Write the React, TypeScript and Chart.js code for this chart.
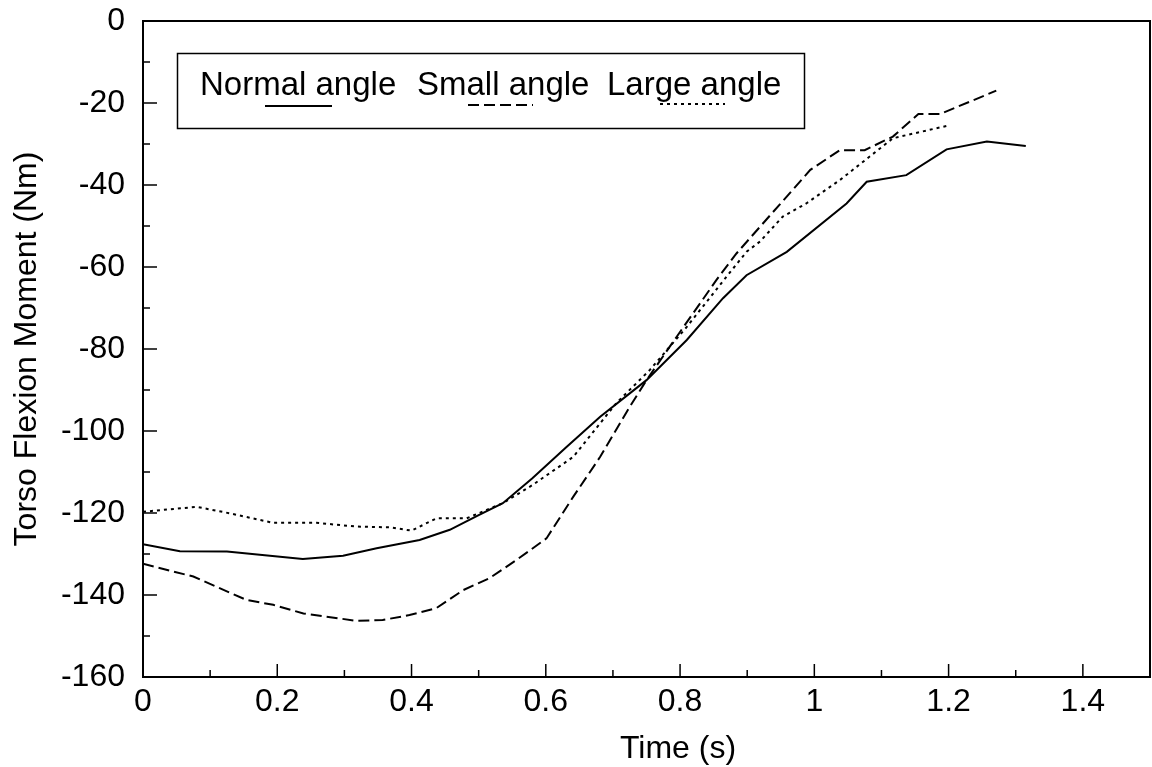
import React, { useEffect, useRef } from "react";
import { Chart, registerables } from "chart.js";

Chart.register(...registerables);

const normalTime = [0, 0.055, 0.125, 0.238, 0.298, 0.348, 0.412, 0.457, 0.5, 0.536, 0.58, 0.63, 0.681, 0.75, 0.81, 0.864, 0.899, 0.959, 1.048, 1.078, 1.137, 1.197, 1.257, 1.315];
const normalMoment = [-127.6, -129.3, -129.4, -131.2, -130.4, -128.6, -126.6, -124.1, -120.5, -117.6, -111.5, -104, -96.5, -87.6, -77.8, -67.6, -62, -56.3, -44.5, -39.2, -37.6, -31.3, -29.4, -30.5];

const smallTime = [0, 0.075, 0.154, 0.194, 0.239, 0.318, 0.357, 0.397, 0.437, 0.477, 0.516, 0.556, 0.601, 0.641, 0.681, 0.725, 0.75, 0.795, 0.854, 0.884, 0.994, 1.038, 1.075, 1.117, 1.155, 1.187, 1.271];
const smallMoment = [-132.4, -135.5, -141.2, -142.4, -144.5, -146.3, -146.1, -144.9, -143.2, -138.8, -135.9, -131.5, -126.2, -116, -106.3, -94.1, -87.6, -77, -63.2, -56.7, -36.3, -31.5, -31.5, -28.2, -22.7, -22.7, -17];

const largeTime = [0, 0.08, 0.13, 0.194, 0.258, 0.318, 0.368, 0.4, 0.437, 0.482, 0.536, 0.58, 0.641, 0.705, 0.755, 0.81, 0.869, 0.899, 0.919, 0.953, 0.988, 1.038, 1.117, 1.197];
const largeMoment = [-119.7, -118.5, -120.1, -122.4, -122.4, -123.3, -123.5, -124.3, -121.3, -121.3, -117.6, -113.2, -106.3, -93.2, -85.1, -74.6, -62.4, -56.3, -53.8, -47.7, -44.5, -38.8, -28.6, -25.6];

const seriesLabels = ["Normal angle", "Small angle", "Large angle"];
const seriesDashes: number[][] = [[], [11, 5], [3, 4]];
const xTickValues = [0, 0.2, 0.4, 0.6, 0.8, 1, 1.2, 1.4];
const xTitle = "Time (s)";
const yTitle = "Torso Flexion Moment (Nm)";

const FONT = '"Liberation Sans", Arial, sans-serif';

function toPoints(xs: number[], ys: number[]) {
  return xs.map((x, i) => ({ x, y: ys[i] }));
}

const decorPlugin = {
  id: "decor",
  afterDraw(chart: any) {
    const ctx = chart.ctx as CanvasRenderingContext2D;
    const { left, right, top, bottom } = chart.chartArea;
    const xs = chart.scales.x;
    const ys = chart.scales.y;
    ctx.save();
    ctx.strokeStyle = "#000";
    ctx.fillStyle = "#000";
    // frame
    ctx.lineWidth = 2;
    ctx.setLineDash([]);
    ctx.strokeRect(left, top, right - left, bottom - top);
    // inward ticks
    ctx.lineWidth = 1.5;
    for (let v = 0; v <= 1.5001; v += 0.1) {
      const px = xs.getPixelForValue(v);
      const major = Math.abs(v / 0.2 - Math.round(v / 0.2)) < 1e-6;
      const len = major ? 13 : 7;
      ctx.beginPath();
      ctx.moveTo(px, bottom);
      ctx.lineTo(px, bottom - len);
      ctx.stroke();
    }
    for (let v = -160; v <= 0; v += 10) {
      const py = ys.getPixelForValue(v);
      const major = v % 20 === 0;
      const len = major ? 14 : 7;
      ctx.beginPath();
      ctx.moveTo(left, py);
      ctx.lineTo(left + len, py);
      ctx.stroke();
    }
    // axis titles
    ctx.font = `32px ${FONT}`;
    ctx.textAlign = "center";
    ctx.textBaseline = "alphabetic";
    ctx.fillText(xTitle, 678, 758);
    ctx.save();
    ctx.translate(36, (top + bottom) / 2);
    ctx.rotate(-Math.PI / 2);
    ctx.fillText(yTitle, 0, 0);
    ctx.restore();
    // legend
    ctx.lineWidth = 1.5;
    ctx.strokeRect(177.5, 53.5, 627, 75);
    ctx.textAlign = "left";
    ctx.font = `33px ${FONT}`;
    const textX = [200, 417, 607];
    const sampleX = [[265, 332], [468, 533], [660, 725]];
    const sampleY = [106, 105, 104];
    seriesLabels.forEach((lab, i) => {
      ctx.fillText(lab, textX[i], 95);
      ctx.lineWidth = 2;
      ctx.setLineDash(seriesDashes[i]);
      ctx.beginPath();
      ctx.moveTo(sampleX[i][0], sampleY[i]);
      ctx.lineTo(sampleX[i][1], sampleY[i]);
      ctx.stroke();
    });
    ctx.restore();
  },
};

export default function App() {
  const ref = useRef<HTMLCanvasElement | null>(null);
  useEffect(() => {
    if (!ref.current) return;
    const datasets = [
      toPoints(normalTime, normalMoment),
      toPoints(smallTime, smallMoment),
      toPoints(largeTime, largeMoment),
    ].map((data, i) => ({
      label: seriesLabels[i],
      data,
      borderColor: "#000",
      backgroundColor: "#000",
      borderWidth: 2,
      borderDash: seriesDashes[i],
      pointRadius: 0,
      tension: 0,
      fill: false,
    }));
    const chart = new Chart(ref.current, {
      type: "line",
      data: { datasets },
      options: {
        animation: false,
        responsive: true,
        maintainAspectRatio: false,
        layout: { padding: { top: 21, right: 2, left: 0, bottom: 0 } },
        plugins: { legend: { display: false }, tooltip: { enabled: false } },
        scales: {
          x: {
            type: "linear",
            min: 0,
            max: 1.5,
            grid: { display: false, drawTicks: false },
            border: { display: false },
            afterFit: (s: any) => { s.height = 90; s.paddingLeft = 0; s.paddingRight = 0; },
            afterBuildTicks: (s: any) => {
              s.ticks = xTickValues.map((v) => ({ value: v }));
            },
            ticks: {
              color: "#000",
              font: { family: FONT, size: 32 },
              padding: 6,
              maxRotation: 0,
              autoSkip: false,
              callback: (v: any) => String(Number(Number(v).toFixed(1))),
            },
          },
          y: {
            type: "linear",
            min: -160,
            max: 0,
            grid: { display: false, drawTicks: false },
            border: { display: false },
            afterFit: (s: any) => { s.width = 143; s.paddingTop = 0; s.paddingBottom = 0; },
            ticks: {
              color: "#000",
              stepSize: 20,
              font: { family: FONT, size: 32 },
              padding: 18,
            },
          },
        },
      },
      plugins: [decorPlugin],
    });
    return () => chart.destroy();
  }, []);
  return (
    <div style={{ position: "fixed", left: 0, top: 0, width: 1152, height: 767, background: "#fff" }}>
      <canvas ref={ref} />
    </div>
  );
}
